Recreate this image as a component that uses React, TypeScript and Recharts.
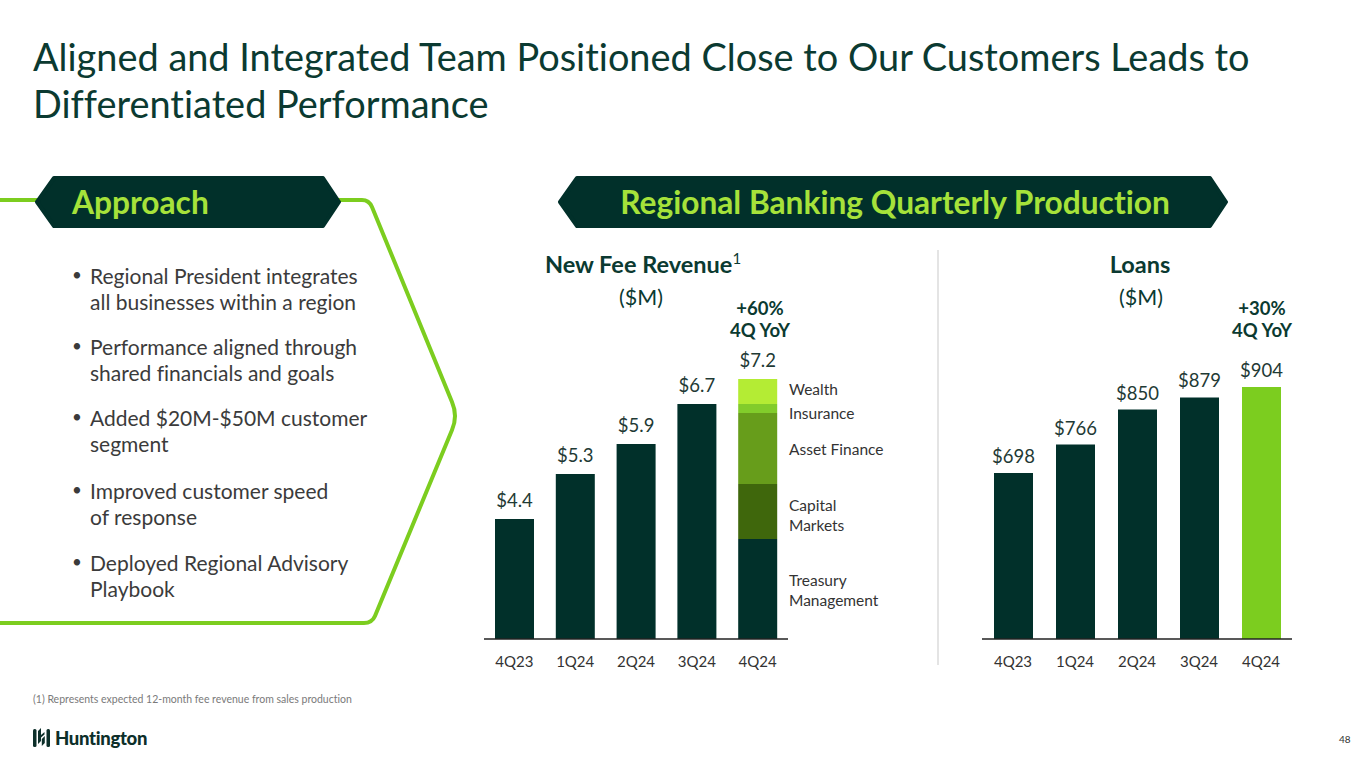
import React from 'react';
import { BarChart, Bar, XAxis, YAxis, LabelList, Cell } from 'recharts';

const quarters = ['4Q23', '1Q24', '2Q24', '3Q24', '4Q24'];
const feeTotals = [4.4, 5.3, 5.9, 6.7, 7.2];
const feeTreasury = [4.4, 5.3, 5.9, 6.7, 4.0];
const feeCapitalMarkets = [0, 0, 0, 0, 1.1];
const feeAssetFinance = [0, 0, 0, 0, 1.42];
const feeInsurance = [0, 0, 0, 0, 0.18];
const feeWealth = [0, 0, 0, 0, 0.5];
const loanValues = [698, 766, 850, 879, 904];

const bullets = [
  ['Regional President integrates', 'all businesses within a region'],
  ['Performance aligned through', 'shared financials and goals'],
  ['Added $20M-$50M customer', 'segment'],
  ['Improved customer speed', 'of response'],
  ['Deployed Regional Advisory', 'Playbook'],
];
const bulletCenters = [275, 346, 417, 490, 562];

const segmentLabels = [
  { lines: ['Wealth'], cy: 389 },
  { lines: ['Insurance'], cy: 413 },
  { lines: ['Asset Finance'], cy: 449 },
  { lines: ['Capital', 'Markets'], cy: 515 },
  { lines: ['Treasury', 'Management'], cy: 590 },
];

const DARK = '#01302a';
const LIME = '#7ccd1f';
const FONT = 'Lato, "Open Sans", sans-serif';

const lastIdx = quarters.length - 1;
const feeData = quarters.map((q, i) => ({
  q,
  treasury: feeTreasury[i],
  capital: feeCapitalMarkets[i],
  asset: feeAssetFinance[i],
  insurance: feeInsurance[i],
  wealth: feeWealth[i],
  lowLabel: i < lastIdx ? feeTotals[i] : null,
  topLabel: i === lastIdx ? feeTotals[i] : null,
}));

const loanData = quarters.map((q, i) => ({ q, value: loanValues[i] }));

const fmtFee = (v: any) => (v == null ? '' : `$${Number(v).toFixed(1)}`);
const fmtLoan = (v: any) => `$${v}`;

function T({ x, cy, size, lh, children, style, anchor }: any) {
  const s: React.CSSProperties = {
    position: 'absolute',
    top: cy - lh / 2,
    lineHeight: `${lh}px`,
    fontSize: size,
    whiteSpace: 'nowrap',
    fontVariantLigatures: 'none',
    ...style,
  };
  if (anchor === 'middle') {
    s.left = x - 300;
    s.width = 600;
    s.textAlign = 'center';
  } else {
    s.left = x;
  }
  return <div style={s}>{children}</div>;
}

const tickStyle = { fill: '#333333', fontSize: 15, fontFamily: FONT };
const labelStyle = { fill: '#1f3a35', fontSize: 18.5, fontFamily: FONT };

export default function App() {
  return (
    <div style={{ position: 'relative', width: 1365, height: 768, background: '#fff', fontFamily: FONT, overflow: 'hidden', fontVariantLigatures: 'none' }}>
      <style>{`body{margin:0}`}</style>

      {/* Title */}
      <div style={{ position: 'absolute', left: 33, top: 33, fontSize: 37.9, lineHeight: '47px', color: '#0b3a31', width: 1330, whiteSpace: 'nowrap' }}>
        Aligned and Integrated Team Positioned Close to Our Customers Leads to
        <br />
        Differentiated Performance
      </div>

      {/* Decorations */}
      <svg width={1365} height={768} style={{ position: 'absolute', left: 0, top: 0 }}>
        <path
          d="M 0 200 L 362 200 Q 369 200 372 207 L 452 402 Q 458 416 452 430 L 375 616 Q 372 623 364 623 L 0 623"
          fill="none"
          stroke={LIME}
          strokeWidth={4}
          strokeLinejoin="round"
        />
        <polygon
          points="37,202 54,178 323,178 339,202 323,226 54,226"
          fill={DARK}
          stroke={DARK}
          strokeWidth={4}
          strokeLinejoin="round"
        />
        <polygon
          points="560,202 577,178 1210,178 1226,202 1210,226 577,226"
          fill={DARK}
          stroke={DARK}
          strokeWidth={4}
          strokeLinejoin="round"
        />
        <line x1={938} y1={250} x2={938} y2={665} stroke="#e4e4e4" strokeWidth={2} />
        {/* logo icon */}
        <g fill="#0d2f2a">
          <rect x={33} y={729} width={3.5} height={18} rx={1.5} />
          <rect x={46.5} y={729} width={3.5} height={18} rx={1.5} />
          <path d="M 38 731 L 41 728 L 41 735 L 44.5 732 L 44.5 734.5 L 41 737.5 L 41 741 L 38 744 Z" />
          <path d="M 41.8 746 L 44.8 743 L 44.8 736 L 41.8 739 Z" />
        </g>
      </svg>

      {/* Pill texts */}
      <T x={72} cy={202} size={31.7} lh={38} style={{ color: '#a6e23a', fontWeight: 700 }}>Approach</T>
      <T x={895} cy={202} size={31.7} lh={38} anchor="middle" style={{ color: '#a6e23a', fontWeight: 700 }}>
        Regional Banking Quarterly Production
      </T>

      {/* Bullets */}
      {bullets.map((b, i) => (
        <React.Fragment key={i}>
          <T x={72} cy={bulletCenters[i]} size={17} lh={26} style={{ color: '#3b3b3b' }}>•</T>
          <T x={90} cy={bulletCenters[i]} size={21} lh={27} style={{ color: '#3b3b3b' }}>{b[0]}</T>
          <T x={90} cy={bulletCenters[i] + 26.5} size={21} lh={27} style={{ color: '#3b3b3b' }}>{b[1]}</T>
        </React.Fragment>
      ))}

      {/* Chart headers */}
      <T x={643} cy={264} size={23.5} lh={30} anchor="middle" style={{ color: '#0b3a31', fontWeight: 700 }}>
        New Fee Revenue<span style={{ fontWeight: 400, fontSize: 15, verticalAlign: 'super', lineHeight: 0 }}>1</span>
      </T>
      <T x={641} cy={297} size={21.5} lh={28} anchor="middle" style={{ color: '#0b3a31' }}>($M)</T>
      <T x={760} cy={308} size={18.5} lh={22} anchor="middle" style={{ color: '#0b3a31', fontWeight: 700 }}>+60%</T>
      <T x={760} cy={330} size={18.5} lh={22} anchor="middle" style={{ color: '#0b3a31', fontWeight: 700 }}>4Q YoY</T>

      <T x={1140} cy={264} size={23.5} lh={30} anchor="middle" style={{ color: '#0b3a31', fontWeight: 700 }}>Loans</T>
      <T x={1141} cy={297} size={21.5} lh={28} anchor="middle" style={{ color: '#0b3a31' }}>($M)</T>
      <T x={1262} cy={308} size={18.5} lh={22} anchor="middle" style={{ color: '#0b3a31', fontWeight: 700 }}>+30%</T>
      <T x={1262} cy={330} size={18.5} lh={22} anchor="middle" style={{ color: '#0b3a31', fontWeight: 700 }}>4Q YoY</T>

      {/* Segment labels */}
      {segmentLabels.map((s, i) => (
        <div
          key={i}
          style={{
            position: 'absolute',
            left: 789,
            top: s.cy - (s.lines.length * 20) / 2,
            fontSize: 15.5,
            lineHeight: '20px',
            color: '#333333',
            whiteSpace: 'nowrap',
          }}
        >
          {s.lines.map((l, j) => (
            <div key={j}>{l}</div>
          ))}
        </div>
      ))}

      {/* Fee chart */}
      <div style={{ position: 'absolute', left: 464, top: 320 }}>
        <BarChart width={341} height={360} data={feeData} margin={{ top: 19, right: 17, left: 20, bottom: 1 }} style={{ fontFamily: FONT }}>
          <XAxis dataKey="q" axisLine={{ stroke: '#222', strokeWidth: 1.5 }} tickLine={false} tick={tickStyle} tickMargin={11} height={40} interval={0} />
          <YAxis hide domain={[2, 8]} allowDataOverflow />
          <Bar dataKey="treasury" stackId="a" fill={DARK} barSize={39} isAnimationActive={false}>
            <LabelList dataKey="lowLabel" position="top" offset={12} formatter={fmtFee} style={labelStyle} />
          </Bar>
          <Bar dataKey="capital" stackId="a" fill="#3f670c" barSize={39} isAnimationActive={false} />
          <Bar dataKey="asset" stackId="a" fill="#679d1b" barSize={39} isAnimationActive={false} />
          <Bar dataKey="insurance" stackId="a" fill="#82cc2b" barSize={39} isAnimationActive={false} />
          <Bar dataKey="wealth" stackId="a" fill="#b4ec34" barSize={39} isAnimationActive={false}>
            <LabelList dataKey="topLabel" position="top" offset={12} formatter={fmtFee} style={labelStyle} />
          </Bar>
        </BarChart>
      </div>

      {/* Loans chart */}
      <div style={{ position: 'absolute', left: 962, top: 320 }}>
        <BarChart width={348} height={360} data={loanData} margin={{ top: 19, right: 18, left: 20, bottom: 1 }} style={{ fontFamily: FONT }}>
          <XAxis dataKey="q" axisLine={{ stroke: '#222', strokeWidth: 1.5 }} tickLine={false} tick={tickStyle} tickMargin={11} height={40} interval={0} />
          <YAxis hide domain={[300, 1019]} allowDataOverflow />
          <Bar dataKey="value" barSize={39} isAnimationActive={false}>
            {loanData.map((d, i) => (
              <Cell key={i} fill={i === loanData.length - 1 ? LIME : DARK} />
            ))}
            <LabelList dataKey="value" position="top" offset={10} formatter={fmtLoan} style={labelStyle} />
          </Bar>
        </BarChart>
      </div>

      {/* Footnote */}
      <T x={33} cy={699} size={10.5} lh={14} style={{ color: '#7a7a7a' }}>
        (1) Represents expected 12-month fee revenue from sales production
      </T>
      <T x={55} cy={738} size={18.5} lh={22} style={{ color: '#0d2f2a', fontWeight: 900, letterSpacing: -0.3 }}>Huntington</T>
      <T x={1339} cy={739} size={10} lh={14} style={{ color: '#333' }}>48</T>
    </div>
  );
}
